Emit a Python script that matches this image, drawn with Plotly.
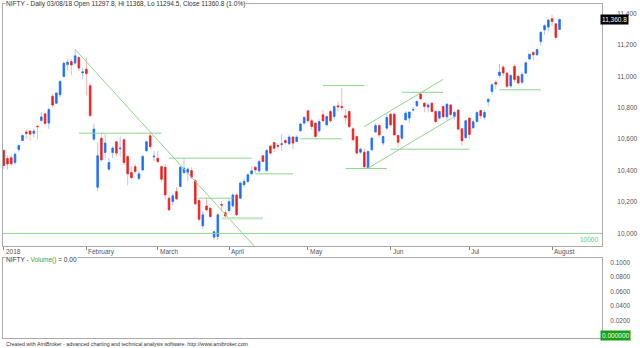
import pandas as pd
import plotly.graph_objects as go

# ---- trading calendar (NSE, Jan-Aug 2018) ----
HOLIDAYS = ["2018-01-26", "2018-02-13", "2018-03-02", "2018-03-29", "2018-03-30", "2018-05-01"]
dates = [d.strftime("%Y-%m-%d") for d in pd.bdate_range("2018-01-01", "2018-08-03")
         if d.strftime("%Y-%m-%d") not in HOLIDAYS]

# ---- NIFTY daily OHLC ----
open_ = [10527, 10477, 10482, 10452, 10534, 10591, 10645, 10652, 10637, 10682, 10718, 10761, 10702, 10873,
         10829, 10883, 10998, 11075, 11094, 11084, 11120, 11022,
         11045, 10940, 10600, 10294, 10606, 10515, 10409, 10515, 10583, 10539, 10596, 10489, 10387, 10425,
         10349, 10404, 10526, 10621, 10487,
         10479, 10425, 10421, 10224, 10203, 10266, 10298, 10387, 10387, 10400, 10336, 10209, 10048, 10175,
         10160, 9976, 9980, 10184, 10132,
         10145, 10175, 10245, 10224, 10309, 10330, 10379, 10421, 10398, 10494, 10400, 10557, 10578, 10560,
         10566, 10591, 10570, 10613, 10585, 10653, 10702,
         10780, 10717, 10702, 10653, 10755, 10691, 10776, 10744, 10812, 10808, 10749, 10776, 10666, 10617,
         10517, 10517, 10419, 10532, 10645, 10687, 10575, 10670,
         10759, 10759, 10623, 10606, 10723, 10734, 10785, 10812, 10887, 10829, 10804, 10829, 10776, 10734,
         10808, 10742, 10818, 10744, 10785, 10666, 10610,
         10734, 10672, 10712, 10782, 10740, 10838, 10903, 10961, 11005, 11058, 11020, 10938, 11063, 11000,
         10962, 11020, 11110, 11152, 11137, 11222, 11296, 11313,
         11366, 11334, 11297.8]
high = [10537, 10495, 10503, 10513, 10566, 10631, 10659, 10655, 10664, 10690, 10770, 10762, 10803, 10887,
        10897, 10975, 11092, 11111, 11110, 11171, 11121, 11052,
        11117, 10954, 10698, 10580, 10636, 10634, 10480, 10555, 10590, 10617, 10606, 10497, 10429, 10442,
        10396, 10499, 10592, 10640, 10525,
        10526, 10431, 10441, 10243, 10255, 10296, 10430, 10473, 10420, 10420, 10346, 10224, 10143, 10227,
        10168, 10015, 10130, 10207, 10146,
        10220, 10255, 10255, 10331, 10350, 10386, 10424, 10431, 10469, 10500, 10537, 10560, 10583, 10575,
        10630, 10600, 10630, 10620, 10625, 10705, 10748,
        10785, 10730, 10710, 10725, 10785, 10750, 10786, 10812, 10840, 10925, 10790, 10785, 10676, 10621,
        10546, 10540, 10528, 10613, 10698, 10694, 10621, 10763,
        10764, 10765, 10630, 10695, 10778, 10775, 10804, 10845, 10893, 10835, 10830, 10837, 10782, 10780,
        10813, 10830, 10824, 10780, 10790, 10670, 10723,
        10736, 10725, 10777, 10786, 10785, 10860, 10956, 10976, 11078, 11072, 11026, 11014, 11076, 11010,
        11028, 11094, 11144, 11161, 11172, 11283, 11332, 11363,
        11391, 11337, 11368]
low = [10410, 10404, 10429, 10441, 10520, 10588, 10603, 10592, 10612, 10600, 10713, 10687, 10666, 10800,
       10823, 10867, 10993, 11037, 11009, 11075, 11033, 10982,
       10878, 10740, 10586, 10273, 10456, 10479, 10398, 10480, 10490, 10489, 10435, 10305, 10347, 10380,
       10340, 10396, 10520, 10539, 10462,
       10447, 10324, 10215, 10141, 10176, 10211, 10295, 10377, 10336, 10346, 10180, 10075, 10028, 10140,
       10100, 9959, 9958, 10139, 10104,
       10135, 10165, 10111, 10220, 10294, 10323, 10375, 10384, 10386, 10455, 10394, 10500, 10516, 10532,
       10525, 10565, 10565, 10536, 10580, 10648, 10690,
       10705, 10660, 10601, 10640, 10710, 10680, 10704, 10724, 10776, 10781, 10699, 10670, 10589, 10505,
       10506, 10418, 10415, 10527, 10641, 10612, 10558, 10660,
       10681, 10618, 10550, 10595, 10720, 10700, 10774, 10805, 10850, 10771, 10770, 10770, 10701, 10724,
       10730, 10720, 10745, 10725, 10655, 10558, 10600,
       10600, 10664, 10706, 10729, 10725, 10808, 10883, 10918, 10990, 10999, 10925, 10925, 10963, 10950,
       10950, 11015, 11100, 11100, 11128, 11195, 11265, 11284,
       11320, 11234, 11294.5]
close = [10432, 10442, 10443, 10504, 10559, 10623, 10637, 10632, 10651, 10679, 10741, 10700, 10788, 10817,
         10894, 10966, 11083, 11090, 11072, 11130, 11052, 11028,
         11017, 10750, 10664, 10494, 10468, 10575, 10451, 10543, 10511, 10543, 10451, 10379, 10355, 10394,
         10379, 10489, 10583, 10553, 10491,
         10457, 10345, 10245, 10150, 10239, 10220, 10421, 10415, 10409, 10358, 10188, 10090, 10118, 10150,
         10107, 10011, 10118, 10180, 10111,
         10203, 10245, 10118, 10320, 10330, 10373, 10398, 10404, 10457, 10457, 10527, 10511, 10542, 10555,
         10570, 10578, 10613, 10575, 10613, 10696, 10738,
         10717, 10680, 10617, 10712, 10717, 10744, 10717, 10808, 10806, 10801, 10738, 10680, 10596, 10511,
         10536, 10425, 10521, 10606, 10687, 10627, 10617, 10738,
         10691, 10627, 10580, 10687, 10766, 10772, 10788, 10840, 10857, 10808, 10818, 10776, 10712, 10776,
         10742, 10822, 10757, 10770, 10664, 10590, 10717,
         10630, 10710, 10769, 10749, 10770, 10853, 10946, 10950, 11027, 11021, 10936, 11005, 10980, 10957,
         11012, 11086, 11140, 11137, 11170, 11280, 11322, 11358,
         11349, 11247, 11360.8]

# ---- hand-drawn study lines: (start date, start level, end date, end level) ----
trend_start_date = ["2018-01-29", "2018-01-30", "2018-03-07", "2018-03-19", "2018-04-11", "2018-04-27",
                    "2018-05-08", "2018-05-16", "2018-05-23", "2018-05-24", "2018-06-06", "2018-06-01",
                    "2018-07-12"]
trend_start_level = [11171, 10638, 10479, 10224, 10379, 10602, 10941, 10413, 10680, 10415, 10898, 10536, 10914]
trend_end_date = ["2018-04-12", "2018-03-05", "2018-04-10", "2018-04-03", "2018-04-25", "2018-05-15",
                  "2018-05-23", "2018-05-31", "2018-06-21", "2018-06-26", "2018-06-21", "2018-07-02",
                  "2018-07-27"]
trend_end_level = [9885, 10638, 10479, 10224, 10379, 10602, 10941, 10413, 10980, 10744, 10898, 10536, 10914]
support_zone = ("2018-03-27", "2018-04-13", 10097)
level_line = 10000

month_starts = ["2018-01-01", "2018-02-01", "2018-03-01", "2018-04-02", "2018-05-02", "2018-06-01",
                "2018-07-02", "2018-08-01"]
month_labels = ["2018", "February", "March", "April", "May", "Jun", "Jul", "August"]
price_ticks = [10000, 10200, 10400, 10600, 10800, 11000, 11200, 11400]
volume_ticks = [0.02, 0.04, 0.06, 0.08, 0.1]
volume_last = 0.0

title_text = "NIFTY - Daily 03/08/18 Open 11297.8, Hi 11368, Lo 11294.5, Close 11360.8 (1.0%)"
footer_text = ("Created with AmiBroker - advanced charting and technical analysis software. "
               "http://www.amibroker.com")

# ---- styling ----
FONT = "Liberation Sans"
TEXT = "#333333"
AXIS_TEXT = "#555555"
FRAME = "#a9a9a9"
UP = "#1a6dff"
DOWN = "#f21c1c"
UP_WICK = "#a9c8ff"
DOWN_WICK = "#ffb3b3"
GREEN = "#8ed48e"
X_RANGE = [-0.2, 159.3]
PRICE_DOMAIN = [0.2755, 1.0]
VOL_DOMAIN = [0.0, 0.2395]

fig = go.Figure()

# wicks (pale) underneath
fig.add_trace(go.Candlestick(
    x=dates, open=open_, high=high, low=low, close=close,
    increasing=dict(line=dict(color=UP_WICK, width=1), fillcolor=UP_WICK),
    decreasing=dict(line=dict(color=DOWN_WICK, width=1), fillcolor=DOWN_WICK),
    whiskerwidth=0, hoverinfo="skip", showlegend=False))

# solid bodies on top
body_top = [max(o, c) for o, c in zip(open_, close)]
body_bot = [min(o, c) for o, c in zip(open_, close)]
fig.add_trace(go.Candlestick(
    x=dates, open=open_, high=body_top, low=body_bot, close=close,
    increasing=dict(line=dict(color=UP, width=0.6), fillcolor=UP),
    decreasing=dict(line=dict(color=DOWN, width=0.6), fillcolor=DOWN),
    whiskerwidth=0, hoverinfo="skip", showlegend=False))

# study lines
for xs, ys, xe, ye in zip(trend_start_date, trend_start_level, trend_end_date, trend_end_level):
    fig.add_trace(go.Scatter(x=[xs, xe], y=[ys, ye], mode="lines",
                             line=dict(color=GREEN, width=1), hoverinfo="skip", showlegend=False))
fig.add_trace(go.Scatter(x=[support_zone[0], support_zone[1]], y=[support_zone[2], support_zone[2]],
                         mode="lines", line=dict(color="#cbe9cb", width=2.5),
                         hoverinfo="skip", showlegend=False))

# empty volume pane
fig.add_trace(go.Scatter(x=[], y=[], xaxis="x2", yaxis="y2", showlegend=False))

fig.add_shape(type="line", xref="x domain", yref="y", x0=0, x1=1, y0=level_line, y1=level_line,
              line=dict(color=GREEN, width=1))

axis_common = dict(showgrid=False, zeroline=False, showline=True, mirror=True,
                   linecolor=FRAME, linewidth=1, fixedrange=True)

fig.update_layout(
    width=640, height=348,
    margin=dict(l=2, r=33, t=4, b=10),
    paper_bgcolor="white", plot_bgcolor="white",
    showlegend=False, boxgap=0.4,
    font=dict(family=FONT, size=6.5, color=TEXT),
    xaxis=dict(type="category", range=X_RANGE, anchor="y", rangeslider=dict(visible=False),
               ticks="outside", ticklen=3, tickcolor="#888888", tickvals=month_starts,
               showticklabels=False, **axis_common),
    yaxis=dict(domain=PRICE_DOMAIN, range=[9920, 11460], side="right", anchor="x",
               tickvals=price_ticks, tickformat=",d", ticks="", ticklabelstandoff=13,
               tickfont=dict(size=6.5, color=AXIS_TEXT), **axis_common),
    xaxis2=dict(type="linear", range=X_RANGE, anchor="y2", showticklabels=False, ticks="",
                **axis_common),
    yaxis2=dict(domain=VOL_DOMAIN, range=[-0.0037, 0.1059], side="right", anchor="x2",
                tickvals=volume_ticks, tickformat=".4f", ticks="", ticklabelstandoff=6,
                tickfont=dict(size=6.5, color=AXIS_TEXT), **axis_common),
)

ann = []
ann.append(dict(xref="paper", yref="paper", x=0, y=1, xanchor="left", yanchor="middle", xshift=2,
                text=title_text, bgcolor="white", borderpad=0, showarrow=False,
                font=dict(size=6.5, color=TEXT)))
ann.append(dict(xref="paper", yref="paper", x=0, y=VOL_DOMAIN[1], xanchor="left", yanchor="middle",
                xshift=2, yshift=-1.5,
                text="NIFTY - <span style='color:#3c9e3c'>Volume()</span> = 0.00",
                bgcolor="white", borderpad=0, showarrow=False, font=dict(size=6.5, color=TEXT)))
ann.append(dict(xref="paper", yref="paper", x=0, y=0, xanchor="left", yanchor="middle", xshift=1,
                yshift=-5.5, text=footer_text, showarrow=False, font=dict(size=5.3, color=TEXT)))
for d, lab in zip(month_starts, month_labels):
    ann.append(dict(xref="x", yref="paper", x=d, y=PRICE_DOMAIN[0], xanchor="left", yanchor="top",
                    xshift=0, yshift=0, text=lab, showarrow=False,
                    font=dict(size=6.5, color=AXIS_TEXT)))
ann.append(dict(xref="x domain", yref="y", x=1, y=close[-1], xanchor="left", yanchor="middle",
                xshift=-2, text=f"{close[-1]:,.1f}", bgcolor="black", borderpad=1, showarrow=False,
                font=dict(size=6.5, color="white")))
ann.append(dict(xref="x domain", yref="y", x=1, y=level_line, xanchor="right", yanchor="top",
                xshift=-2, yshift=-1, text=str(level_line), showarrow=False,
                font=dict(size=6.5, color="#6cc46c")))
ann.append(dict(xref="x2 domain", yref="y2", x=1, y=volume_last, xanchor="left", yanchor="middle",
                xshift=-2, text=f"{volume_last:.6f}", bgcolor="#16a016", borderpad=1, showarrow=False,
                font=dict(size=6.5, color="white")))
fig.update_layout(annotations=ann)

fig.write_html("out.html")
